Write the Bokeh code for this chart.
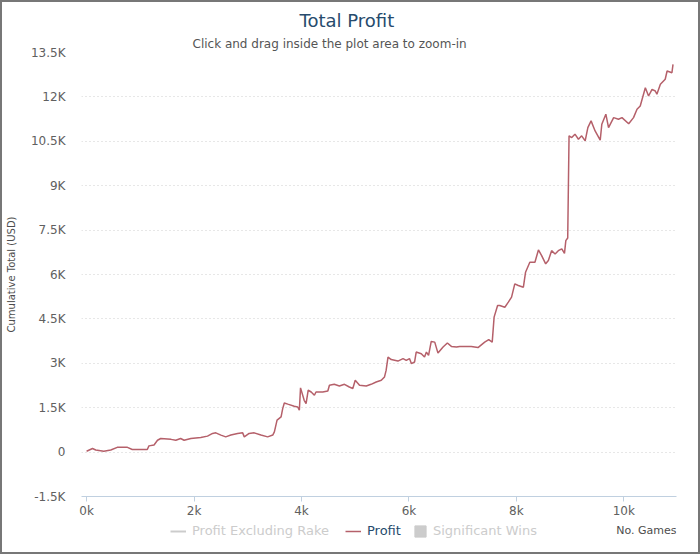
from bokeh.plotting import figure
from bokeh.layouts import column
from bokeh.models import Title, Legend, LegendItem, FixedTicker, Range1d, Label
from bokeh.embed import file_html
from bokeh.resources import INLINE

# ---- data ----
games = [0, 110, 170, 320, 450, 570, 760, 850, 1130, 1160, 1255, 1320, 1380, 1570, 1660,
         1750, 1815, 1940, 2125, 2250, 2345, 2405, 2500, 2590, 2685, 2810, 2905, 2935,
         3025, 3120, 3245, 3370, 3465, 3495, 3545, 3620, 3650, 3680, 3745, 3865, 3930,
         3960, 3982, 4050, 4085, 4125, 4180, 4240, 4270, 4395, 4490, 4520, 4610, 4705,
         4800, 4890, 4955, 5000, 5080, 5205, 5295, 5390, 5485, 5545, 5575, 5610, 5670,
         5795, 5890, 5950, 6010, 6045, 6105, 6135, 6230, 6290, 6325, 6365, 6415, 6480,
         6540, 6635, 6715, 6790, 6885, 6945, 7040, 7160, 7285, 7410, 7485, 7550, 7585,
         7650, 7690, 7785, 7850, 7910, 7970, 8035, 8130, 8170, 8250, 8345, 8410, 8470,
         8545, 8595, 8655, 8720, 8780, 8845, 8895, 8920, 8955, 8980, 9030, 9090, 9155,
         9215, 9280, 9330, 9390, 9465, 9560, 9590, 9665, 9715, 9810, 9900, 9965, 10090,
         10180, 10245, 10305, 10400, 10460, 10525, 10585, 10615, 10680, 10770, 10805,
         10895, 10915]
profit = [30, 120, 70, 30, 70, 160, 160, 90, 90, 210, 240, 400, 460, 430, 400,
          460, 400, 460, 495, 540, 630, 650, 575, 515, 575, 630, 650, 515,
          630, 650, 575, 515, 575, 685, 1080, 1190, 1470, 1660, 1620, 1550, 1525,
          1415, 2170, 1750, 1640, 2090, 2030, 1920, 2030, 2030, 2065, 2260, 2290, 2235,
          2290, 2200, 2150, 2425, 2260, 2235, 2290, 2370, 2425, 2540, 2760, 3210, 3125,
          3075, 3160, 3100, 3160, 2990, 3045, 3380, 3325, 3210, 3380, 3270, 3740, 3715,
          3345, 3550, 3685, 3570, 3550, 3570, 3570, 3570, 3530, 3715, 3800, 3715, 4560,
          4955, 4955, 4895, 5065, 5235, 5685, 5630, 5570, 6075, 6415, 6415, 6830, 6640,
          6360, 6470, 6805, 6695, 6805, 6865, 6715, 7145, 7235, 10685, 10625, 10740, 10570,
          10685, 10515, 10960, 11190, 10850, 10540, 11075, 11415, 10960, 11300, 11245, 11300, 11095,
          11300, 11585, 11695, 12310, 12030, 12255, 12200, 12090, 12425, 12595, 12875,
          12815, 13100]

y_ticks = [-1500, 0, 1500, 3000, 4500, 6000, 7500, 9000, 10500, 12000, 13500]
y_tick_labels = ["-1.5K", "0", "1.5K", "3K", "4.5K", "6K", "7.5K", "9K", "10.5K", "12K", "13.5K"]
x_ticks = [0, 2000, 4000, 6000, 8000, 10000]
x_tick_labels = ["0k", "2k", "4k", "6k", "8k", "10k"]

series_names = ["Profit Excluding Rake", "Profit", "Significant Wins"]

FONT = "DejaVu Sans"
LINE_COLOR = "#b5606a"

p = figure(width=696, height=518, output_backend="svg", toolbar_location=None, title=None,
           x_range=Range1d(-95, 10980), y_range=Range1d(-1500, 13500),
           min_border_left=79, min_border_right=22, min_border_top=50, min_border_bottom=23)
p.outline_line_color = None

# titles (subtitle first = closest to plot)
p.add_layout(Title(text="Click and drag inside the plot area to zoom-in", align="left", offset=111,
                   text_font=FONT, text_font_size="12px", text_font_style="normal",
                   text_color="#555555", standoff=4), "above")
p.add_layout(Title(text="Total Profit", align="left", offset=218,
                   text_font=FONT, text_font_size="18px", text_font_style="normal",
                   text_color="#274b6d", standoff=4), "above")

# grid
p.xgrid.visible = False
p.ygrid.grid_line_color = "#cfcfcf"
p.ygrid.grid_line_dash = "1 3"
p.ygrid.grid_line_width = 1

# y axis
p.yaxis.ticker = FixedTicker(ticks=y_ticks)
p.yaxis.major_label_overrides = {t: l for t, l in zip(y_ticks, y_tick_labels)}
p.yaxis.axis_line_color = None
p.yaxis.major_tick_line_color = None
p.yaxis.minor_tick_line_color = None
p.yaxis.major_label_text_font = FONT
p.yaxis.major_label_text_font_size = "12px"
p.yaxis.major_label_text_color = "#606060"
p.yaxis.major_label_standoff = 10
p.yaxis.axis_label = "Cumulative Total (USD)"
p.yaxis.axis_label_text_font = FONT
p.yaxis.axis_label_text_font_size = "10px"
p.yaxis.axis_label_text_font_style = "normal"
p.yaxis.axis_label_text_color = "#4d4d4d"
p.yaxis.axis_label_standoff = 11

# x axis
p.xaxis.ticker = FixedTicker(ticks=x_ticks)
p.xaxis.major_label_overrides = {t: l for t, l in zip(x_ticks, x_tick_labels)}
p.xaxis.axis_line_color = "#c0d0e0"
p.xaxis.major_tick_line_color = "#c0d0e0"
p.xaxis.major_tick_in = 0
p.xaxis.major_tick_out = 5
p.xaxis.minor_tick_line_color = None
p.xaxis.major_label_text_font = FONT
p.xaxis.major_label_text_font_size = "12px"
p.xaxis.major_label_text_color = "#606060"
p.xaxis.major_label_standoff = 2

# profit series
p.line(games, profit, line_color=LINE_COLOR, line_width=1.5)

# ---- legend strip (second figure; its frame is aligned with the main frame) ----
q = figure(width=696, height=32, output_backend="svg", toolbar_location=None, title=None,
           x_range=Range1d(81, 676), y_range=Range1d(0, 32),
           x_axis_type=None, y_axis_type=None,
           min_border_left=0, min_border_right=0, min_border_top=0, min_border_bottom=0)
q.outline_line_color = None
q.xgrid.visible = False
q.ygrid.visible = False

# legend swatches (one off-screen point each, so the legend can draw their glyphs)
r_rake = q.line([0, 1], [-10, -10], line_color="#cccccc", line_width=2)
r_profit = q.line([0, 1], [-10, -10], line_color=LINE_COLOR, line_width=1.5)
r_wins = q.quad(left=[0], right=[1], top=[-10], bottom=[-11],
                fill_color="#cccccc", line_color="#cccccc")

common = dict(orientation="horizontal", padding=0, margin=0, spacing=0,
              border_line_color=None, background_fill_alpha=0,
              label_text_font=FONT, label_text_font_size="13px",
              glyph_height=14, label_standoff=6)
leg1 = Legend(items=[LegendItem(label=series_names[0], renderers=[r_rake])],
              location=(89, 14), label_text_color="#cccccc", glyph_width=16, **common)
leg2 = Legend(items=[LegendItem(label=series_names[1], renderers=[r_profit])],
              location=(264, 14), label_text_color="#274b6d", glyph_width=16, **common)
leg3 = Legend(items=[LegendItem(label=series_names[2], renderers=[r_wins])],
              location=(332, 14), label_text_color="#cccccc", glyph_width=14, **common)
for lg in (leg1, leg2, leg3):
    q.add_layout(lg, "center")

q.add_layout(Label(x=676, y=22, text="No. Games", text_align="right", text_baseline="middle",
                   text_font=FONT, text_font_size="11px", text_color="#4d4d4d"))

layout = column(p, q, spacing=0, styles={"border": "2px solid #777777"})

open("out.html", "w").write(file_html(layout, INLINE))
